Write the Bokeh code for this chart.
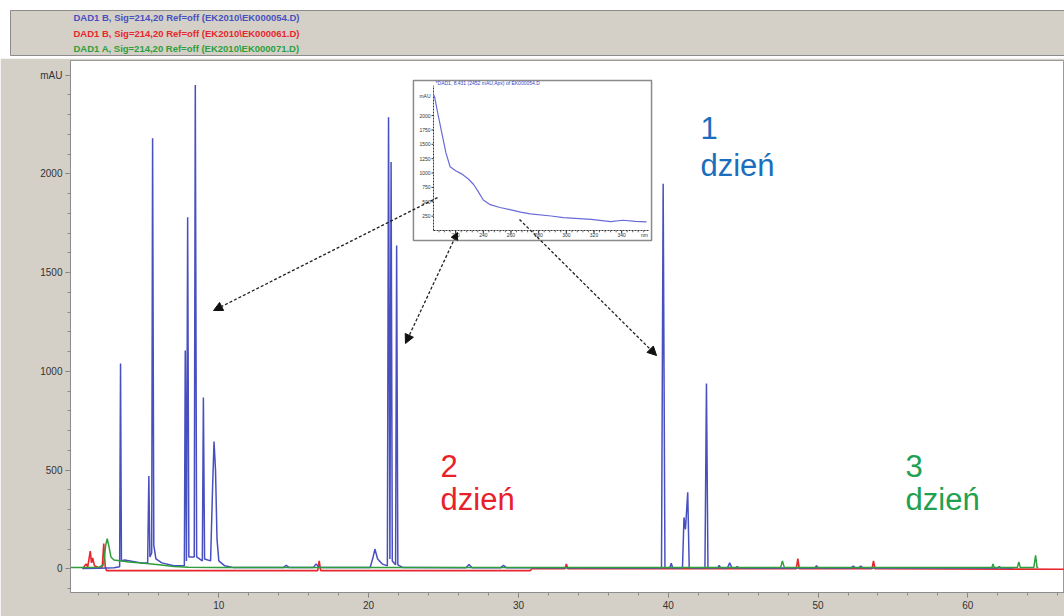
from bokeh.plotting import figure
from bokeh.layouts import column
from bokeh.models import Range1d, FixedTicker, Label, Arrow, NormalHead
from bokeh.core.properties import value
from bokeh.embed import file_html
from bokeh.resources import INLINE

FONT = "Liberation Sans"
PANEL = "#d4d0c8"
BLUE = "#4850c0"
RED = "#e8262c"
GREEN = "#2f9e3c"
SPEC = "#6a6ad8"

# ---- signal descriptions shown in the header ----
legend_texts = [
    "DAD1 B, Sig=214,20 Ref=off (EK2010\\EK000054.D)",
    "DAD1 B, Sig=214,20 Ref=off (EK2010\\EK000061.D)",
    "DAD1 A, Sig=214,20 Ref=off (EK2010\\EK000071.D)",
]
legend_colors = [BLUE, RED, GREEN]

# ---- chromatograms: retention time [min] and absorbance [mAU] ----
blue_t = [0.9, 2.0, 3.0, 3.38, 3.44, 3.50, 3.7, 4.2, 4.8, 5.25, 5.33, 5.40, 5.52, 5.58, 5.66,
          5.8, 6.2, 7.0, 7.70, 7.76, 7.84, 7.92, 8.00, 8.36, 8.43, 8.52, 8.90, 8.97, 9.05,
          9.45, 9.58, 9.68, 9.78, 9.88, 10.0, 10.4, 11.0, 14.3, 14.5, 14.7, 16.3, 16.5, 16.7,
          20.1, 20.3, 20.42, 20.6, 20.9, 21.25, 21.33, 21.42, 21.50, 21.58, 21.80, 21.87,
          21.95, 22.3, 26.5, 26.7, 26.9, 28.8, 29.0, 29.2, 39.55, 39.66, 39.78, 40.1, 40.2,
          40.3, 40.95, 41.05, 41.15, 41.30, 41.40, 42.45, 42.55, 42.65, 43.3, 43.4, 43.5,
          43.95, 44.1, 44.25, 44.5, 44.6, 44.7, 49.8, 49.9, 50.0, 52.2, 52.35, 52.5, 52.7,
          52.85, 53.0, 62.0, 62.1, 62.2, 63.0]
blue_v = [2, 3, 5, 10, 1040, 40, 45, 38, 30, 30, 470, 60, 80, 2180, 120,
          50, 30, 15, 15, 1105, 40, 1780, 60, 60, 2450, 60, 40, 868, 50,
          40, 400, 645, 500, 150, 40, 15, 6, 6, 18, 6, 6, 25, 6,
          6, 60, 100, 50, 25, 15, 2287, 50, 2060, 40, 20, 1637,
          20, 6, 5, 22, 5, 5, 18, 5, 4, 1950, 4, 4, 28,
          4, 4, 260, 200, 388, 4, 4, 938, 4, 4, 18, 4,
          4, 30, 4, 4, 12, 4, 4, 16, 4, 4, 14, 4, 4,
          14, 4, 4, 12, 4, 4]

red_t = [0.9, 1.15, 1.25, 1.42, 1.5, 1.58, 1.7, 2.0, 2.22, 2.32, 2.42, 2.5, 16.6, 16.7, 16.8,
         30.8, 30.9, 33.1, 33.2, 33.3, 48.55, 48.65, 48.75, 53.6, 53.7, 53.8, 66.5]
red_v = [0, 25, 10, 90, 30, 55, 15, 5, 10, 128, 10, -9, -9, 40, -9,
         -9, 0, 0, 25, 0, 0, 52, 0, 0, 40, 0, -2]

green_t = [0.1, 1.0, 2.0, 2.3, 2.45, 2.55, 2.65, 2.8, 3.0, 3.5, 4.0, 5.0, 6.0, 7.0, 8.0, 10.0,
           47.5, 47.62, 47.75, 61.6, 61.68, 61.76, 63.3, 63.4, 63.5, 64.4, 64.52, 64.62, 64.7]
green_v = [6, 6, 8, 20, 120, 152, 120, 60, 45, 40, 35, 28, 20, 12, 8, 6,
           6, 40, 6, 6, 25, 6, 6, 35, 6, 6, 68, 6, 6]

# ---- UV spectrum of the main peak (inset) ----
spec_nm = [204, 205, 207, 210, 213, 216, 220, 224, 229, 233, 236, 240, 245, 252, 260, 267,
           274, 289, 298, 318, 332, 341, 350, 358]
spec_mau = [2370, 2300, 2050, 1700, 1350, 1110, 1040, 990, 900, 800, 690, 530, 450, 400, 360,
            320, 290, 252, 225, 195, 155, 178, 160, 150]
spec_title = "*DAD1, 8.431 (2452 mAU,Apx) of EK000054.D"
inset_yticks = [250, 500, 750, 1000, 1250, 1500, 1750, 2000]
inset_xticks = [220, 240, 260, 280, 300, 320, 340]

# ---- main axis ticks ----
y_ticks = [0, 500, 1000, 1500, 2000, 2500]
x_ticks = [10, 20, 30, 40, 50, 60]

# ---- day annotations ----
day_numbers = ["1", "2", "3"]
day_word = "dzień"
day_colors = ["#1a6ebe", "#e8202a", "#20a050"]

# ---------------------------------------------------------------- header
W = 1064
HEAD_H = 58
h = figure(width=W, height=HEAD_H, x_range=Range1d(0, W), y_range=Range1d(HEAD_H, 0),
           output_backend="svg", toolbar_location=None, min_border=0,
           x_axis_type=None, y_axis_type=None, outline_line_color=None,
           background_fill_color="white", border_fill_color="white")
h.grid.visible = False
h.quad(left=10, right=W + 2, top=10, bottom=55, fill_color=PANEL, line_color="#8c8c8c", line_width=1)
h.text(x=[73, 73, 73], y=[17, 32.5, 47.5], text=legend_texts, text_color=legend_colors,
       text_font=value(FONT), text_font_size="9.5px", text_font_style="bold",
       text_baseline="middle", text_align="left")

# ---------------------------------------------------------------- main chart
MAIN_H = 616 - HEAD_H
p = figure(width=W, height=MAIN_H, x_range=Range1d(0.1, 66.45), y_range=Range1d(-120, 2574),
           output_backend="svg", toolbar_location=None,
           min_border_left=70, min_border_right=0, min_border_top=2, min_border_bottom=24,
           border_fill_color=PANEL, background_fill_color="white", outline_line_color="#9a9a9a")
p.xgrid.visible = False
p.ygrid.visible = False

# keep the header's own frame independent of the chart's frame
for fig in (h, p):
    if hasattr(fig, "frame_align"):
        fig.frame_align = False

for ax in (p.xaxis[0], p.yaxis[0]):
    ax.axis_line_color = "#8c8c8c"
    ax.major_tick_line_color = "#7a7a7a"
    ax.minor_tick_line_color = "#8c8c8c"
    ax.major_tick_in = 0
    ax.minor_tick_in = 0
    ax.major_tick_out = 5
    ax.minor_tick_out = 3
    ax.major_label_text_font = FONT
    ax.major_label_text_font_size = "10px"
    ax.major_label_text_color = "#333333"
    ax.major_label_standoff = 3

p.yaxis.ticker = FixedTicker(ticks=y_ticks, minor_ticks=list(range(-100, 2600, 100)))
p.yaxis.major_label_overrides = {2500: "mAU"}
p.xaxis.ticker = FixedTicker(ticks=x_ticks, minor_ticks=list(range(0, 68, 2)))

# chromatogram traces
p.line(red_t, red_v, color=RED, line_width=1.6)
p.line(blue_t, blue_v, color=BLUE, line_width=1.5)
p.line(green_t, green_v, color=GREEN, line_width=1.5)

# ---- inset spectrum: its own ranges laid over the frame
frame_w, frame_h = 994, 532
nm_per_px = 20 / 27.67
nm_left = 204 - 363 * nm_per_px
mau_per_px = 17.4
spec_top = 170 * mau_per_px
p.extra_x_ranges = {"nm": Range1d(nm_left, nm_left + frame_w * nm_per_px)}
p.extra_y_ranges = {"spec": Range1d(spec_top - frame_h * mau_per_px, spec_top)}
ins = dict(x_range_name="nm", y_range_name="spec")

nm_lo, nm_hi = 204, 359.5
p.quad(left=189.5, right=361.6, top=2610, bottom=-174, fill_color="white",
       line_color="#8a8a8a", line_width=1.5, **ins)
p.segment(x0=[nm_lo, nm_lo], y0=[0, 0], x1=[nm_lo, nm_hi], y1=[2520, 0],
          line_color="#333333", line_width=1, line_dash="2 1", **ins)
# inset ticks
tick_nm = 2 * nm_per_px
tick_mau = 3 * mau_per_px
p.segment(x0=[nm_lo - tick_nm] * len(inset_yticks), y0=inset_yticks,
          x1=[nm_lo] * len(inset_yticks), y1=inset_yticks, line_color="#333333", **ins)
minor_nm = list(range(208, 360, 4))
p.segment(x0=minor_nm, y0=[0] * len(minor_nm), x1=minor_nm, y1=[-tick_mau * 0.6] * len(minor_nm),
          line_color="#444444", line_width=0.8, **ins)
p.segment(x0=inset_xticks, y0=[0] * len(inset_xticks), x1=inset_xticks,
          y1=[-tick_mau] * len(inset_xticks), line_color="#333333", **ins)
p.text(x=[nm_lo - 3 * nm_per_px] * len(inset_yticks), y=inset_yticks,
       text=[str(v) for v in inset_yticks], text_font=value(FONT), text_font_size="5px",
       text_align="right", text_baseline="middle", text_color="#333333", **ins)
p.text(x=[nm_lo - 3 * nm_per_px], y=[2340], text=["mAU"], text_font=value(FONT),
       text_font_size="5px", text_align="right", text_baseline="middle", text_color="#333333", **ins)
p.text(x=inset_xticks, y=[-80] * len(inset_xticks), text=[str(v) for v in inset_xticks],
       text_font=value(FONT), text_font_size="5px", text_align="center", text_baseline="middle",
       text_color="#333333", **ins)
p.text(x=[356.5], y=[-80], text=["nm"], text_font=value(FONT), text_font_size="5px",
       text_align="center", text_baseline="middle", text_color="#333333", **ins)
p.text(x=[205.5], y=[2560], text=[spec_title], text_font=value(FONT), text_font_size="5px",
       text_align="left", text_baseline="middle", text_color="#4040c0", **ins)
p.line(spec_nm, spec_mau, color=SPEC, line_width=1.2, **ins)

# ---- arrows from the spectrum to the peaks (time, mAU)
arrow_paths = [
    ((24.60, 1880), (9.65, 1308), False),
    ((25.93, 1703), (22.46, 1141), True),
    ((30.07, 1769), (39.22, 1080), False),
]
for (xs, ys), (xe, ye), both in arrow_paths:
    arr = Arrow(x_start=xs, y_start=ys, x_end=xe, y_end=ye, line_color="#222222",
                line_width=1.3, line_dash="3 2",
                end=NormalHead(size=9, fill_color="#111111", line_color="#111111", line_width=1),
                start=NormalHead(size=7, fill_color="#111111", line_color="#111111", line_width=1) if both else None)
    p.add_layout(arr)

# ---- day annotations (time, mAU of the baseline of each text line)
day_positions = [(42.15, 2232, 2044), (24.8, 523, 351), (55.84, 523, 351)]
for num, color, (x, y_num, y_word) in zip(day_numbers, day_colors, day_positions):
    for txt, yy in ((num, y_num), (day_word, y_word)):
        p.add_layout(Label(x=x, y=yy, text=txt, text_color=color, text_font=FONT,
                           text_font_size="31px", text_align="left", text_baseline="alphabetic"))

layout = column(h, p, spacing=0)
open("out.html", "w").write(file_html(layout, INLINE))
